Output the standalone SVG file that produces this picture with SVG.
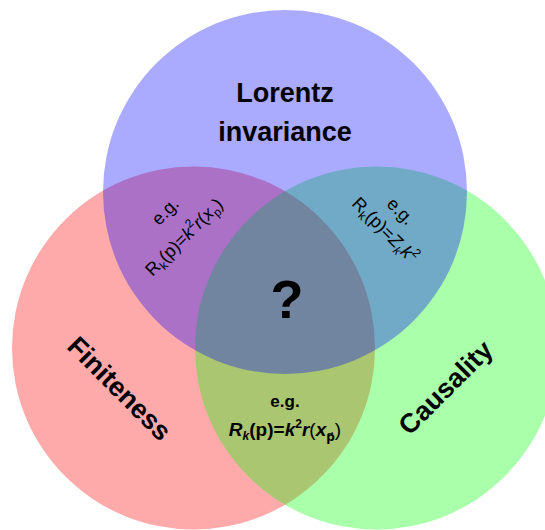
<svg xmlns="http://www.w3.org/2000/svg" width="545" height="530" viewBox="0 0 545 530">
<style>
.c{fill-opacity:0.3333;stroke:none}
.t{font-family:"Liberation Sans",Arial,sans-serif;fill:#000}
.big{font-size:27px;font-weight:bold;text-anchor:middle}
.f{font-size:18px;text-anchor:middle}
.i{font-style:italic}
.s{font-size:12px}
</style>
<rect width="545" height="530" fill="#fff"/>
<g id="finiteness">
<circle class="c" cx="193.5" cy="348" r="181.5" fill="#ff0000"/>
</g>
<g id="causality">
<circle class="c" cx="376.5" cy="348" r="181.5" fill="#00ff00"/>
</g>
<g id="lorentz">
<circle class="c" cx="285" cy="192" r="182" fill="#0000ff"/>
</g>
<g id="labels">
<text class="t big" x="285" y="102">Lorentz</text>
<text class="t big" x="285" y="141">invariance</text>
<text class="t big" transform="translate(120,388) rotate(45)" y="10">Finiteness</text>
<text class="t big" transform="translate(445,387) rotate(-45)" y="10">Causality</text>
<text class="t" x="287" y="318" font-size="54" font-weight="bold" text-anchor="middle">?</text>
</g>
<g id="red-blue">
<text class="t f" transform="translate(166,212) rotate(-45)" y="5">e.g.</text>
<text class="t f" transform="translate(184,237) rotate(-45)" y="6">R<tspan class="s" dy="4">k</tspan><tspan dy="-4">(p)=</tspan><tspan class="i">k</tspan><tspan class="s" dy="-8">2</tspan><tspan class="i" dy="8">r</tspan>(<tspan class="i">x</tspan><tspan class="s" dy="4">p</tspan><tspan dy="-4">)</tspan></text>
</g>
<g id="blue-green">
<text class="t f" transform="translate(400,212) rotate(45)" y="5">e.g.</text>
<text class="t f" transform="translate(385,230) rotate(45)" y="6">R<tspan class="s" dy="4">k</tspan><tspan dy="-4">(p)=</tspan><tspan class="i">Z</tspan><tspan class="s i" dy="4">k</tspan><tspan class="i" dy="-4">k</tspan><tspan class="s" dy="-8">2</tspan></text>
</g>
<g id="red-green">
<text class="t" x="285" y="407" font-size="17" font-weight="bold" text-anchor="middle">e.g.</text>
<text class="t" x="285" y="436" font-weight="bold" font-size="19" text-anchor="middle"><tspan class="i">R</tspan><tspan class="s i" dy="4">k</tspan><tspan dy="-4">(p)=</tspan><tspan class="i">k</tspan><tspan class="s" dy="-8">2</tspan><tspan class="i" dy="8">r</tspan><tspan font-weight="normal">(</tspan><tspan class="i">x</tspan><tspan class="s" dy="5" font-family="DejaVu Sans, sans-serif">p⃗</tspan><tspan dy="-5" font-weight="normal">)</tspan></text>
</g>
</svg>
